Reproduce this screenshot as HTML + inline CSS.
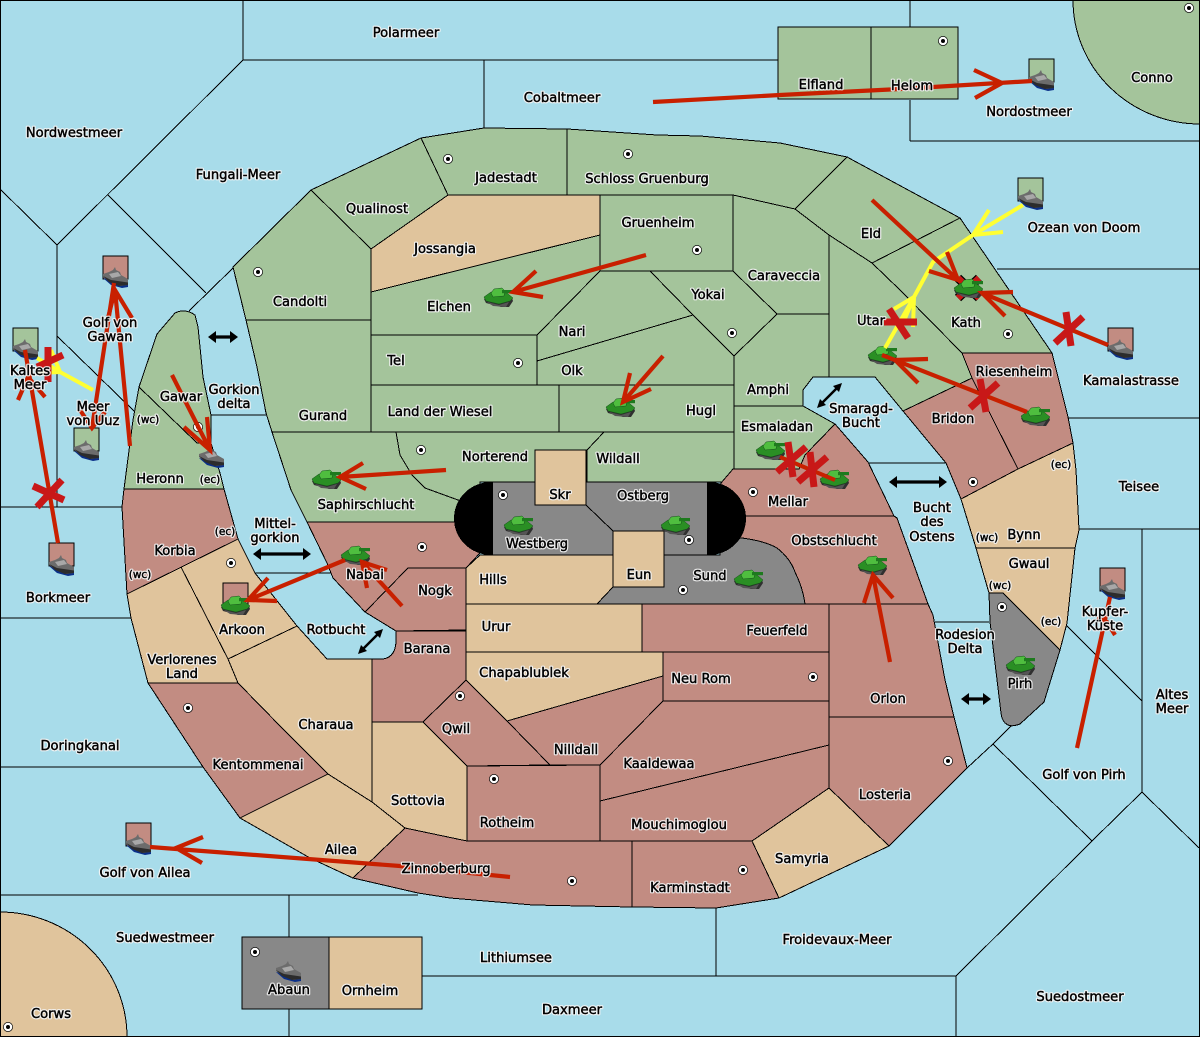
<!DOCTYPE html>
<html><head><meta charset="utf-8"><style>
html,body{margin:0;padding:0;background:#a8dcea}
svg{display:block}
#R polygon,#R path,#R rect{stroke:#000;stroke-width:1}
.g{fill:#a4c49b}.r{fill:#c28c82}.t{fill:#e0c49c}.y{fill:#888}
</style></head><body>
<svg width="1200" height="1037" viewBox="0 0 1200 1037" xmlns="http://www.w3.org/2000/svg" font-family="'DejaVu Sans',sans-serif" font-size="13.1">
<defs>
<g id="tank">
<path d="M0 10L4 8L28 9L29 12L25 18L17 18L2 14Z" fill="#303030"/>
<path d="M0 8L7 3L23 4L29 9L26 12L15 15L2 12Z" fill="#2a8f24" stroke="#14501a" stroke-width=".5"/>
<path d="M7 4L10 0L18 -1L21 2L20 7L9 8Z" fill="#4fbe3f" stroke="#14501a" stroke-width=".5"/>
<rect x="18" y="1" width="11" height="3.2" fill="#1e7a1e"/>
<path d="M3 13L15 16L25 13L22 18L9 17Z" fill="#555"/>
</g>
<g id="ship">
<path d="M0 11L8 18L19 21L25 20L25 15L10 13Z" fill="#0a2f88"/>
<path d="M0 7L6 5L10 3L12 0L13 3L17 5L18 8L25 12L25 18L17 19L7 15L0 10Z" fill="#6c6c6c"/>
<path d="M0 9L8 13L25 15.500L25 18L16 19L6 15Z" fill="#2c2c2c"/>
<path d="M6 7L15 5L18 9L9 11Z" fill="#a8a8a8"/>
</g>
<g id="dot"><circle r="4.6" fill="#fff" stroke="#000" stroke-width=".7"/><circle r="2" fill="#000"/></g>
<g id="L" text-anchor="middle">
<text x="406" y="37">Polarmeer</text><text x="562" y="102">Cobaltmeer</text><text x="821" y="89">Elfland</text><text x="912" y="90">Helom</text><text x="1152" y="82">Conno</text><text x="1029" y="116">Nordostmeer</text><text x="74" y="137">Nordwestmeer</text><text x="238" y="179">Fungali-Meer</text><text x="506" y="182">Jadestadt</text><text x="647" y="183">Schloss Gruenburg</text><text x="377" y="213">Qualinost</text><text x="658" y="227">Gruenheim</text><text x="1084" y="232">Ozean von Doom</text><text x="871" y="238">Eld</text><text x="445" y="253">Jossangia</text><text x="784" y="280">Caraveccia</text><text x="708" y="299">Yokai</text><text x="300" y="306">Candolti</text><text x="449" y="311">Elchen</text><text x="871" y="325">Utar</text><text x="966" y="327">Kath</text><text x="572" y="336">Nari</text>
<text x="110" y="327">Golf von</text><text x="110" y="341">Gawan</text><text x="396" y="365">Tel</text><text x="572" y="375">Olk</text><text x="30" y="375">Kaltes</text><text x="30" y="389">Meer</text><text x="1014" y="376">Riesenheim</text><text x="1131" y="385">Kamalastrasse</text><text x="768" y="394">Amphi</text><text x="181" y="401">Gawar</text><text x="234" y="394">Gorkion</text><text x="234" y="408">delta</text><text x="93" y="411">Meer</text><text x="93" y="425">von Uuz</text><text x="148" y="423" font-size="10.5">(wc)</text><text x="440" y="416">Land der Wiesel</text><text x="701" y="415">Hugl</text><text x="323" y="420">Gurand</text><text x="861" y="413">Smaragd-</text><text x="861" y="427">Bucht</text><text x="953" y="423">Bridon</text><text x="777" y="431">Esmaladan</text><text x="495" y="461">Norterend</text><text x="618" y="463">Wildall</text><text x="160" y="483">Heronn</text><text x="210" y="483" font-size="10.5">(ec)</text><text x="1139" y="491">Teisee</text><text x="1061" y="468" font-size="10.5">(ec)</text><text x="560" y="499">Skr</text><text x="643" y="500">Ostberg</text><text x="788" y="506">Mellar</text><text x="366" y="509">Saphirschlucht</text>
<text x="932" y="512">Bucht</text><text x="932" y="526">des</text><text x="932" y="541">Ostens</text><text x="275" y="528">Mittel-</text><text x="275" y="542">gorkion</text><text x="1024" y="539">Bynn</text><text x="987" y="541" font-size="10.5">(wc)</text><text x="225" y="535" font-size="10.5">(ec)</text><text x="834" y="545">Obstschlucht</text><text x="537" y="548">Westberg</text><text x="175" y="555">Korbia</text><text x="1029" y="568">Gwaul</text><text x="365" y="579">Nabai</text><text x="140" y="578" font-size="10.5">(wc)</text><text x="639" y="579">Eun</text><text x="710" y="580">Sund</text><text x="493" y="584">Hills</text><text x="435" y="595">Nogk</text><text x="1000" y="589" font-size="10.5">(wc)</text><text x="1105" y="616">Kupfer-</text><text x="1105" y="630">Küste</text><text x="1051" y="625" font-size="10.5">(ec)</text><text x="496" y="631">Urur</text><text x="777" y="635">Feuerfeld</text><text x="242" y="634">Arkoon</text><text x="336" y="634">Rotbucht</text><text x="965" y="639">Rodesion</text><text x="965" y="653">Delta</text><text x="427" y="653">Barana</text>
<text x="182" y="664">Verlorenes</text><text x="182" y="678">Land</text><text x="524" y="677">Chapablublek</text><text x="701" y="683">Neu Rom</text><text x="1020" y="688">Pirh</text><text x="888" y="703">Orlon</text><text x="1172" y="699">Altes</text><text x="1172" y="713">Meer</text><text x="456" y="733">Qwil</text><text x="326" y="729">Charaua</text><text x="576" y="754">Nilldall</text><text x="80" y="750">Doringkanal</text><text x="659" y="768">Kaaldewaa</text><text x="258" y="769">Kentommenai</text><text x="1084" y="779">Golf von Pirh</text><text x="885" y="799">Losteria</text><text x="418" y="805">Sottovia</text><text x="507" y="827">Rotheim</text><text x="679" y="829">Mouchimoglou</text><text x="341" y="854">Ailea</text><text x="802" y="863">Samyria</text><text x="446" y="873">Zinnoberburg</text><text x="145" y="877">Golf von Ailea</text><text x="690" y="892">Karminstadt</text><text x="165" y="942">Suedwestmeer</text><text x="837" y="944">Froidevaux-Meer</text><text x="516" y="962">Lithiumsee</text><text x="289" y="994">Abaun</text><text x="370" y="995">Ornheim</text><text x="572" y="1014">Daxmeer</text><text x="1080" y="1001">Suedostmeer</text><text x="51" y="1018">Corws</text><text x="58" y="602">Borkmeer</text>
</g>
</defs>
<rect width="1200" height="1037" fill="#a8dcea"/>
<g shape-rendering="crispEdges" fill="none" stroke="#000" stroke-width="1">
<path d="M243 0V60L57 245V507M243 60H778M484 60V128M910 0V27M910 100V141M910 141H1200M0 189L57 245M108 195L206 293M189 311L233 268M57 336L135 412M211 415H266M0 507H122M0 618H131M0 767H204M0 895H418M289 895V937M289 1009V1037M422 976H956M716 908V976M956 976V1037M956 976L1092 841L993 744L1012 725M967 768L993 744M1092 841L1142 792L1199 848M1142 792V529M1079 529H1200M1066 625L1142 701M1068 418H1200M997 269H1200M868 463H946M935 622H989M255 573H333"/>
</g>
<g id="R" shape-rendering="crispEdges">
<path class="g" d="M1073 0A127 124 0 0 0 1200 124V0Z"/>
<path class="t" d="M0 912A127 125 0 0 1 127 1037H0Z"/>
<rect class="g" x="778" y="27" width="93" height="72"/><rect class="g" x="871" y="27" width="87" height="72"/>
<rect class="y" x="242" y="937" width="87" height="72"/><rect class="t" x="329" y="937" width="93" height="72"/>
<polygon class="g" points="233,267 311,190 371,249 371,320 246,320"/>
<polygon class="g" points="246,320 257,367 266,413 272,432 371,432 371,320"/>
<polygon class="g" points="272,432 396,432 400,455 412,475 425,488 458,500 480,505 480,522 307,522 291,490"/>
<polygon class="g" points="396,432 604,432 587,450 535,450 535,482 480,482 480,505 458,500 425,488 412,475 400,455"/>
<polygon class="g" points="604,432 734,432 734,469 722,482 587,482 587,450"/>
<polygon class="g" points="734,406 803,406 835,424 805,455 799,469 734,469"/>
<polygon class="g" points="777,314 829,314 829,377 813,377 803,390 803,406 734,406 734,356"/>
<polygon class="g" points="559,385 734,385 734,432 559,432"/>
<polygon class="g" points="371,385 559,385 559,432 371,432"/>
<polygon class="g" points="371,335 537,335 537,385 371,385"/>
<polygon class="g" points="371,292 600,235 600,271 537,335 371,335"/>
<polygon class="t" points="448,195 600,195 600,235 371,292 371,249"/>
<polygon class="g" points="311,190 421,138 448,195 371,249"/>
<polygon class="g" points="421,138 484,128 567,129 567,195 448,195"/>
<polygon class="g" points="567,129 657,135 700,136 780,143 847,157 795,209 733,195 567,195"/>
<polygon class="g" points="600,195 733,195 733,271 600,271"/>
<polygon class="g" points="600,271 650,271 693,315 537,361 537,335"/>
<polygon class="g" points="537,361 693,315 734,356 734,385 537,385"/>
<polygon class="g" points="650,271 733,271 777,314 734,356 693,315"/>
<polygon class="g" points="733,195 795,209 829,235 829,314 777,314 733,271"/>
<polygon class="g" points="795,209 847,157 960,218 872,263 829,235"/>
<polygon class="g" points="960,218 1052,353 962,353 900,290 872,263"/>
<polygon class="g" points="829,235 872,263 900,290 962,353 972,378 903,411 875,377 829,377"/>
<polygon class="r" points="972,378 1018,469 961,499 946,463 903,411"/>
<polygon class="r" points="962,353 1052,353 1068,417 1073,443 1018,469 972,378"/>
<polygon class="t" points="961,499 1018,469 1073,443 1076,470 1079,530 1075,548 976,548"/>
<polygon class="t" points="976,548 1075,548 1067,623 1060,650 1003,593 989,593"/>
<path class="y" d="M989 593H1003L1060 650L1044 702L1020 724Q1012 727 1008 725Q1002 722 1001 713L995 663L990 622Z"/>
<polygon class="r" points="721,483 733,469 799,469 805,455 835,424 868,462 894,516 720,516"/>
<polygon class="r" points="720,516 894,516 897,518 928,604 805,604 793,570 777,548 742,538 720,538"/>
<path class="y" d="M597 604L613 587V555H720V538H742Q765 541 777 548Q790 558 795 572Q803 588 805 604Z"/>
<polygon class="r" points="307,522 480,522 480,553 466,568 408,568 365,612 333,578 327,563"/>
<rect x="454" y="482" width="292" height="73" rx="37" ry="36.5" fill="#000" style="stroke:none"/>
<rect x="493" y="482" width="214" height="73" fill="#888" style="stroke:none"/>
<path d="M493 482H707M493 555H707" style="fill:none"/>
<path d="M586 505L613 531" style="fill:none"/>
<rect class="t" x="535" y="450" width="51" height="55"/>
<rect class="t" x="613" y="531" width="51" height="56"/>
<polygon class="t" points="466,568 480,555 613,555 613,587 597,604 466,604"/>
<polygon class="t" points="466,604 642,604 642,652 466,652"/>
<polygon class="r" points="642,604 829,604 829,652 642,652"/>
<polygon class="r" points="663,652 829,652 829,701 663,701"/>
<polygon class="t" points="466,652 663,652 663,676 507,721 466,681"/>
<polygon class="r" points="507,721 663,676 663,701 600,765 550,765"/>
<polygon class="r" points="663,701 829,701 829,745 600,801 600,765"/>
<polygon class="r" points="600,801 829,745 829,788 752,841 600,841"/>
<polygon class="t" points="829,788 889,846 779,898 752,841"/>
<polygon class="r" points="632,841 752,841 779,898 716,908 632,907"/>
<polygon class="r" points="405,828 467,841 632,841 632,907 533,905 450,898 418,893 353,878"/>
<polygon class="t" points="240,818 328,774 372,802 405,828 353,878 310,858"/>
<polygon class="r" points="148,683 238,683 283,729 328,774 240,818 203,767"/>
<polygon class="t" points="228,659 297,626 327,659 372,659 372,802 328,774 283,729 238,683"/>
<polygon class="t" points="127,594 181,567 228,659 238,683 148,683 131,618"/>
<polygon class="t" points="181,567 238,539 255,573 297,626 228,659"/>
<polygon class="r" points="124,489 224,489 238,539 127,594 122,507"/>
<path class="g" d="M157 334L175 313Q185 308 195 315L198 327L203 377L211 415V443L220 473L224 489H124L133 420L139 387Z"/>
<path d="M139 387L197 443H211" style="fill:none"/>
<polygon class="r" points="408,568 466,568 466,630 396,631 365,612"/>
<path class="r" d="M396 631H466V680L423 722H372V659H383Q396 657 396 640Z"/>
<polygon class="r" points="423,722 466,680 507,721 550,765 467,766"/>
<polygon class="r" points="467,766 600,765 600,841 467,841"/>
<polygon class="t" points="372,722 423,722 467,766 467,841 405,828 372,802"/>
<polygon class="r" points="829,604 928,604 933,615 945,680 954,717 829,717"/>
<polygon class="r" points="829,717 954,717 967,768 889,846 829,788"/>
<rect class="g" x="1029" y="59" width="25" height="23"/><rect class="g" x="1018" y="178" width="25" height="23"/><rect class="r" x="1108" y="328" width="25" height="23"/><rect class="r" x="103" y="256" width="25" height="23"/><rect class="g" x="13" y="328" width="25" height="23"/><rect class="g" x="74" y="428" width="25" height="23"/><rect class="r" x="49" y="543" width="25" height="23"/><rect class="r" x="126" y="823" width="25" height="23"/><rect class="r" x="1100" y="568" width="25" height="23"/><rect class="r" x="223" y="583" width="25" height="23"/>
</g>
<g fill="none" stroke="#000" stroke-width="1" shape-rendering="crispEdges"><rect x=".5" y=".5" width="1199" height="1036"/></g>
<use href="#dot" x="448" y="159"/><use href="#dot" x="628" y="154"/><use href="#dot" x="943" y="41"/><use href="#dot" x="1189" y="8"/><use href="#dot" x="258" y="272"/><use href="#dot" x="697" y="250"/><use href="#dot" x="732" y="333"/><use href="#dot" x="518" y="363"/><use href="#dot" x="421" y="450"/><use href="#dot" x="503" y="495"/><use href="#dot" x="689" y="540"/><use href="#dot" x="683" y="590"/><use href="#dot" x="422" y="547"/><use href="#dot" x="231" y="563"/><use href="#dot" x="753" y="492"/><use href="#dot" x="973" y="482"/><use href="#dot" x="1008" y="334"/><use href="#dot" x="198" y="427"/><use href="#dot" x="1002" y="607"/><use href="#dot" x="188" y="708"/><use href="#dot" x="460" y="696"/><use href="#dot" x="494" y="779"/><use href="#dot" x="813" y="677"/><use href="#dot" x="948" y="761"/><use href="#dot" x="743" y="870"/><use href="#dot" x="572" y="881"/><use href="#dot" x="255" y="952"/><use href="#dot" x="8" y="1027"/>
<g fill="none">
<path d="M958 278L979 298M979 278L958 298" stroke="#000" stroke-width="9"/>
<path d="M958 278L979 298M979 278L958 298" stroke="#c81818" stroke-width="6.5"/>
</g>
<use href="#tank" x="484" y="289"/><use href="#tank" x="606" y="399"/><use href="#tank" x="312" y="471"/><use href="#tank" x="504" y="517"/><use href="#tank" x="661" y="517"/><use href="#tank" x="734" y="571"/><use href="#tank" x="341" y="547"/><use href="#tank" x="221" y="597"/><use href="#tank" x="858" y="557"/><use href="#tank" x="1006" y="657"/><use href="#tank" x="954" y="280"/><use href="#tank" x="868" y="347"/><use href="#tank" x="1021" y="408"/><use href="#tank" x="756" y="442"/><use href="#tank" x="820" y="471"/>
<use href="#ship" x="1029" y="70"/><use href="#ship" x="1018" y="189"/><use href="#ship" x="1108" y="339"/><use href="#ship" x="103" y="267"/><use href="#ship" x="13" y="339"/><use href="#ship" x="74" y="440"/><use href="#ship" x="199" y="447"/><use href="#ship" x="49" y="555"/><use href="#ship" x="126" y="834"/><use href="#ship" x="276" y="961"/><use href="#ship" x="1100" y="579"/>
<g fill="none" stroke="#ffff33" stroke-width="4">
<path d="M1023 205L973 235L933 262L914 297L885 348M989 210L973 235L1003 232M894 309L914 297L913 327M901 328L914 297"/>
<path d="M93 390L60 372L37 358M51 350L60 372L38 373"/>
</g>
<g fill="none" stroke="#c82000" stroke-width="4.2">
<path d="M653 102L780 95L900 89L1032 81M974 70L1002 83L975 98"/>
<path d="M646 255L513 292M536 271L513 292L543 297"/>
<path d="M663 356L623 402M630 373L623 402L651 389"/>
<path d="M446 470L340 477M363 463L340 477L366 489"/>
<path d="M172 375L210 450M207 417L210 450L184 427"/>
<path d="M130 446L115 290M132 318L115 290L108 318"/>
<path d="M114 283L92 428M80 410L92 428L105 412"/>
<path d="M58 543L25 350M18 400L28 377L45 397"/>
<path d="M872 200L958 280M947 252L958 280L929 271"/>
<path d="M1108 345L982 293M1013 292L982 293L1005 316"/>
<path d="M1027 412L882 355M928 359L895 360L918 383"/>
<path d="M780 457L835 480"/>
<path d="M345 560L248 600M268 578L248 600L277 601"/>
<path d="M402 606L362 562M387 570L362 562L367 588"/>
<path d="M510 877L400 866L150 847M203 837L176 848L202 863"/>
<path d="M890 662L873 575M864 603L873 575L893 598"/>
<path d="M1077 748L1110 597M1097 618L1107 622L1115 635"/>
</g>
<g fill="none" stroke="#c81818" stroke-width="7">
<path d="M48 347V382M37 367L63 355"/>
<path d="M33 486L64 500M37 507L62 480"/>
<path d="M1066 312L1071 346M1055 343L1083 317"/>
<path d="M980 379L986 412M970 408L998 383"/>
<path d="M889 309L908 338M884 322H917"/>
<path d="M788 442L793 477M777 472L806 447"/>
<path d="M810 452L814 487M798 482L827 457"/>
</g>
<g fill="none" stroke="#000" stroke-width="3.2">
<path d="M214 337H232M259 554H305M895 482H941M967 699H985"/>
</g>
<g stroke="#000" stroke-width="2.5"><path d="M821 404L838 387M362 650L379 633" fill="none"/></g>
<g fill="#000">
<path d="M208 337l8-6v12zM238 337l-8-6v12zM253 554l8-6v12zM311 554l-8-6v12zM889 482l8-6v12zM947 482l-8-6v12zM961 699l8-6v12zM991 699l-8-6v12z"/>
<path d="M817 408l3-9 6 6zM842 383l-3 9-6-6zM358 654l3-9 6 6zM383 629l-3 9-6-6z"/>
</g>
<g fill="#fff" stroke="#f4f4f4" stroke-width="2.8" stroke-linejoin="round" opacity=".92"><use href="#L"/></g>
<g fill="#000" stroke="#000" stroke-width=".45"><use href="#L"/></g>
</svg>
</body></html>
